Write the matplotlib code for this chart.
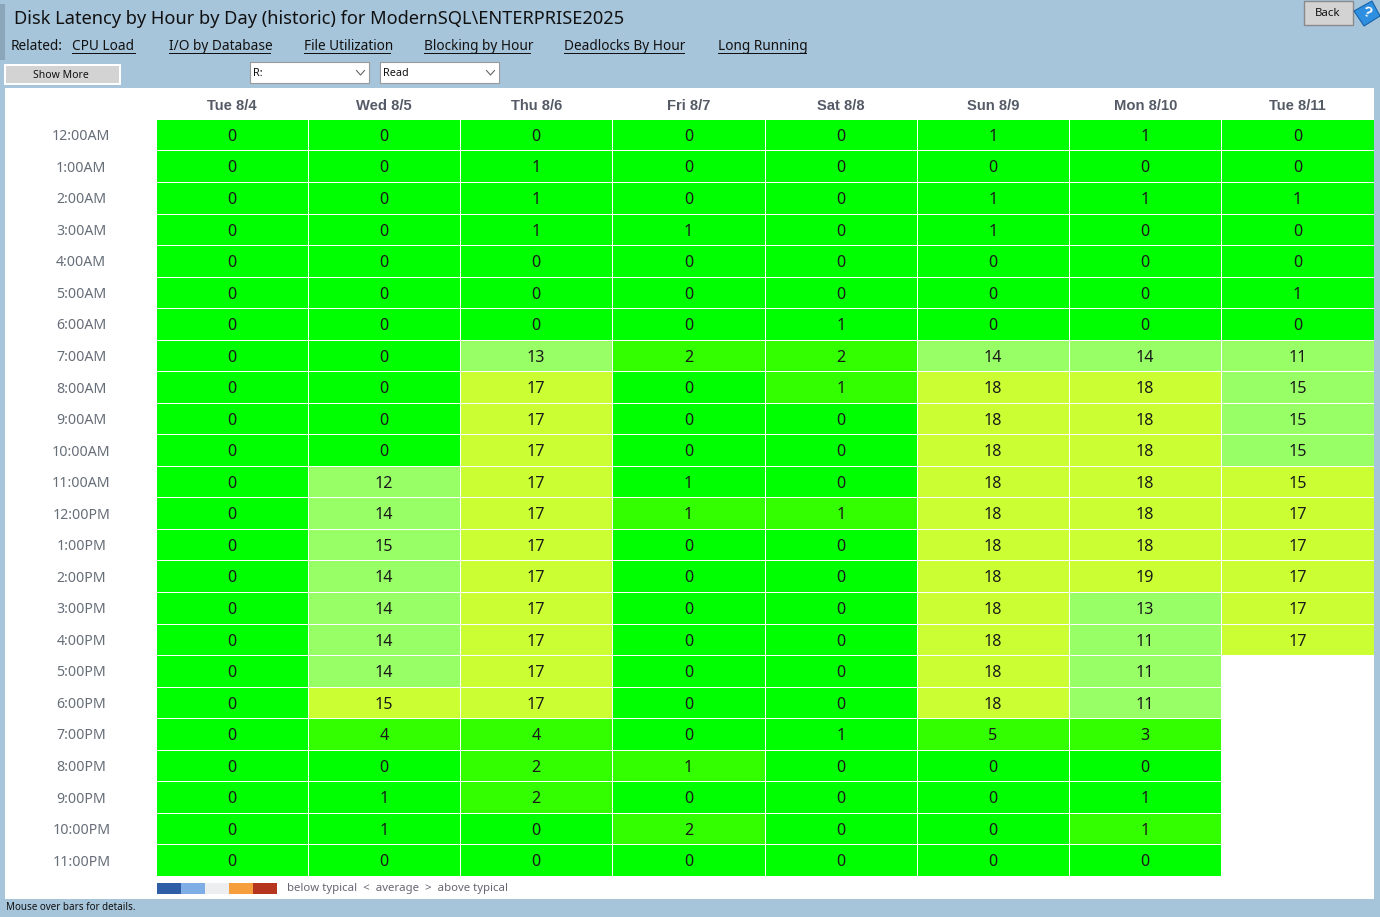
import numpy as np
import matplotlib
matplotlib.use("Agg")
import matplotlib.pyplot as plt
from matplotlib.colors import ListedColormap, BoundaryNorm
from matplotlib.patches import Rectangle, Polygon

days = ["Tue 8/4", "Wed 8/5", "Thu 8/6", "Fri 8/7", "Sat 8/8", "Sun 8/9", "Mon 8/10", "Tue 8/11"]
hours = ["12:00AM", "1:00AM", "2:00AM", "3:00AM", "4:00AM", "5:00AM", "6:00AM", "7:00AM",
         "8:00AM", "9:00AM", "10:00AM", "11:00AM", "12:00PM", "1:00PM", "2:00PM", "3:00PM",
         "4:00PM", "5:00PM", "6:00PM", "7:00PM", "8:00PM", "9:00PM", "10:00PM", "11:00PM"]
N = None
tue_8_4 = [0] * 24
wed_8_5 = [0, 0, 0, 0, 0, 0, 0, 0, 0, 0, 0, 12, 14, 15, 14, 14, 14, 14, 15, 4, 0, 1, 1, 0]
thu_8_6 = [0, 1, 1, 1, 0, 0, 0, 13, 17, 17, 17, 17, 17, 17, 17, 17, 17, 17, 17, 4, 2, 2, 0, 0]
fri_8_7 = [0, 0, 0, 1, 0, 0, 0, 2, 0, 0, 0, 1, 1, 0, 0, 0, 0, 0, 0, 0, 1, 0, 2, 0]
sat_8_8 = [0, 0, 0, 0, 0, 0, 1, 2, 1, 0, 0, 0, 1, 0, 0, 0, 0, 0, 0, 1, 0, 0, 0, 0]
sun_8_9 = [1, 0, 1, 1, 0, 0, 0, 14, 18, 18, 18, 18, 18, 18, 18, 18, 18, 18, 18, 5, 0, 0, 0, 0]
mon_8_10 = [1, 0, 1, 0, 0, 0, 0, 14, 18, 18, 18, 18, 18, 18, 19, 13, 11, 11, 11, 3, 0, 1, 1, 0]
tue_8_11 = [0, 0, 1, 0, 0, 1, 0, 11, 15, 15, 15, 15, 17, 17, 17, 17, 17, N, N, N, N, N, N, N]

# colour class of each cell, as shown in the picture
lvl_tue_8_4 = [0] * 24
lvl_wed_8_5 = [0, 0, 0, 0, 0, 0, 0, 0, 0, 0, 0, 2, 2, 2, 2, 2, 2, 2, 3, 1, 0, 0, 0, 0]
lvl_thu_8_6 = [0, 0, 0, 0, 0, 0, 0, 2, 3, 3, 3, 3, 3, 3, 3, 3, 3, 3, 3, 1, 1, 1, 0, 0]
lvl_fri_8_7 = [0, 0, 0, 0, 0, 0, 0, 1, 0, 0, 0, 0, 1, 0, 0, 0, 0, 0, 0, 0, 1, 0, 1, 0]
lvl_sat_8_8 = [0, 0, 0, 0, 0, 0, 0, 1, 1, 0, 0, 0, 1, 0, 0, 0, 0, 0, 0, 0, 0, 0, 0, 0]
lvl_sun_8_9 = [0, 0, 0, 0, 0, 0, 0, 2, 3, 3, 3, 3, 3, 3, 3, 3, 3, 3, 3, 1, 0, 0, 0, 0]
lvl_mon_8_10 = [0, 0, 0, 0, 0, 0, 0, 2, 3, 3, 3, 3, 3, 3, 3, 2, 2, 2, 2, 1, 0, 0, 1, 0]
lvl_tue_8_11 = [0, 0, 0, 0, 0, 0, 0, 2, 2, 2, 2, 3, 3, 3, 3, 3, 3, N, N, N, N, N, N, N]

level_colors = ["#00FF00", "#33FF00", "#99FF66", "#CCFF33"]
legend_colors = ["#2E5EA6", "#7FAEE6", "#ECEEF0", "#F59E3B", "#B5351F"]
links = ["CPU Load", "I/O by Database", "File Utilization", "Blocking by Hour", "Deadlocks By Hour", "Long Running"]
link_x = [72, 169, 304, 424, 564, 718]
link_w = [64, 102, 87, 107, 121, 89]

BG = "#A6C4DA"
W, H = 1380, 917
FONT = ["Noto Sans", "DejaVu Sans"]
plt.rcParams["font.family"] = FONT

fig = plt.figure(figsize=(W / 100, H / 100), dpi=100, facecolor=BG)


def fx(x):
    return x / W


def fy(y):
    return 1 - y / H


def box(x0, y0, x1, y1, fc, ec="none", lw=0, z=1):
    fig.add_artist(Rectangle((fx(x0), fy(y1)), (x1 - x0) / W, (y1 - y0) / H, transform=fig.transFigure,
                             facecolor=fc, edgecolor=ec, linewidth=lw, zorder=z))


def label(x, y, s, size, color="#111111", ha="left", **kw):
    return fig.text(fx(x), fy(y), s, fontsize=size, color=color, ha=ha, va="center", zorder=5, **kw)


# page chrome
box(0, 4, 5, 60, "#8BA6B9")
box(5, 88, 1374, 899, "#FFFFFF")
label(14, 19, "Disk Latency by Hour by Day (historic) for ModernSQL\\ENTERPRISE2025", 13.15)
label(11, 47, "Related:", 9.8)
for s, x, w in zip(links, link_x, link_w):
    label(x, 47, s, 9.8)
    box(x, 52.6, x + w, 53.6, "#111111", z=5)

box(4, 64, 120.5, 85, "#FFFFFF", z=2)
box(6, 66, 118.5, 83, "#D3D3D3", z=3)
label(61, 76, "Show More", 7.5, ha="center")
for x0, x1, s in [(249.5, 369.5, "R:"), (379.5, 499.5, "Read")]:
    box(x0 + .5, 62.5, x1 - .5, 82.5, "#FFFFFF", ec="#9A9A9A", lw=.8, z=3)
    label(x0 + 3.5, 73, s, 7.8)
    fig.add_artist(plt.Line2D([fx(x1 - 13), fx(x1 - 9), fx(x1 - 5)], [fy(70.5), fy(75), fy(70.5)],
                              color="#666666", lw=.8, zorder=5))
box(1304, .5, 1353, 24.5, "#D3D3D3", ec="#8A8A8A", lw=1, z=3)
label(1328, 14, "Back", 8.2, ha="center")
# help book icon
fig.add_artist(Polygon([(fx(a), fy(b)) for a, b in [(1354, 11), (1372, 1), (1380, 16), (1364, 26)]],
                       closed=True, transform=fig.transFigure, facecolor="#2E8FE0", edgecolor="#1763A8", lw=.8, zorder=4))
label(1367, 13, "?", 11, color="#FFFFFF", ha="center", fontweight="bold", rotation=-18, family="Liberation Sans")
label(6, 908, "Mouse over bars for details.", 7.1)

# heat table
values = np.array([tue_8_4, wed_8_5, thu_8_6, fri_8_7, sat_8_8, sun_8_9, mon_8_10, tue_8_11], dtype=float).T
levels = np.array([lvl_tue_8_4, lvl_wed_8_5, lvl_thu_8_6, lvl_fri_8_7, lvl_sat_8_8, lvl_sun_8_9, lvl_mon_8_10,
                   lvl_tue_8_11], dtype=float).T
ax = fig.add_axes([fx(155.6), fy(875.9), (1373.6 - 155.6) / W, (875.9 - 118.9) / H], zorder=3)
ax.set_facecolor("#FFFFFF")
cmap = ListedColormap(level_colors)
norm = BoundaryNorm(np.arange(-.5, 4.5), cmap.N)
ax.pcolormesh(np.arange(len(days) + 1), np.arange(len(hours) + 1), np.ma.masked_invalid(levels), cmap=cmap,
              norm=norm, edgecolors="#FFFFFF", linewidth=.7)
ax.set_xlim(0, len(days))
ax.set_ylim(len(hours), 0)
for sp in ax.spines.values():
    sp.set_visible(False)
ax.xaxis.tick_top()
ax.set_xticks(np.arange(len(days)) + .5, days)
ax.set_yticks(np.arange(len(hours)) + .5, hours)
for t in ax.get_xticklabels():
    t.set(family="Liberation Sans", fontsize=10.6, fontweight="bold", color="#555B66")
for t in ax.get_yticklabels():
    t.set(fontsize=10.2, color="#666E78", ha="center")
ax.tick_params(length=0)
ax.tick_params(axis="x", pad=4.6)
ax.tick_params(axis="y", pad=53.5)
for r in range(len(hours)):
    for c in range(len(days)):
        if not np.isnan(values[r, c]):
            ax.text(c + .5, r + .57, f"{values[r, c]:.0f}", ha="center", va="center", fontsize=11.6,
                    color="#1A1A1A")

# colour key
for i, col in enumerate(legend_colors):
    box(157 + 24 * i, 883, 181 + 24 * i, 894, col, z=4)
label(287, 888.5, "below typical  <  average  >  above typical", 8.2, color="#666674")

fig.savefig("out.png", dpi=100, facecolor=BG)
